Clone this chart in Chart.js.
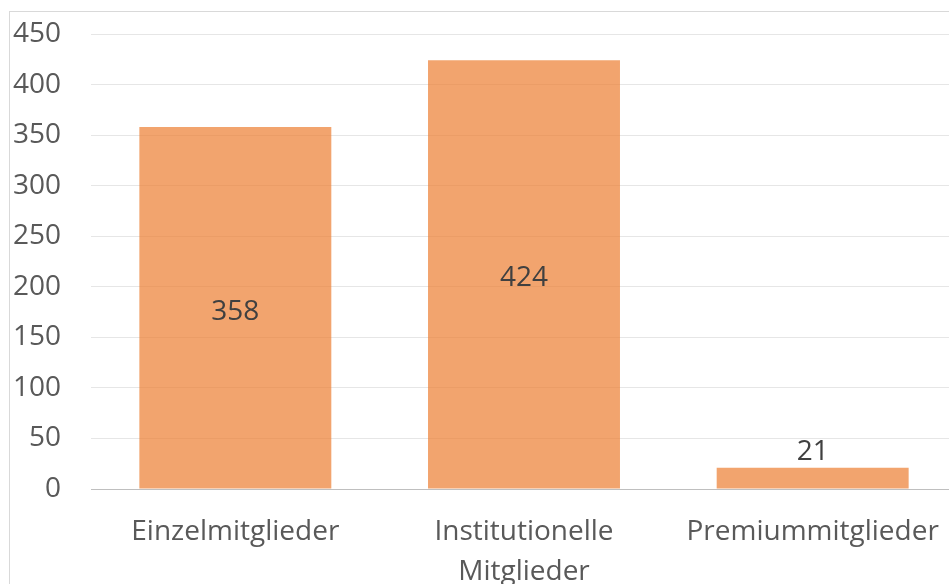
<!DOCTYPE html>
<html lang="de">
<head>
<meta charset="utf-8">
<title>Mitglieder</title>
<script src="https://cdn.jsdelivr.net/npm/chart.js@4"></script>
<style>
  html, body { margin: 0; padding: 0; background: #fff; overflow: hidden; }
  #wrap { position: absolute; left: 0; top: 0; width: 970px; height: 584px; }
</style>
</head>
<body>
<div id="wrap"><canvas id="grafico"></canvas></div>
<script>
// Daten
const kategorien = [['Einzelmitglieder'], ['Institutionelle', 'Mitglieder'], ['Premiummitglieder']];
const anzahl = [358, 424, 21];
const yTicks = [0, 50, 100, 150, 200, 250, 300, 350, 400, 450];

const schrift = '"Open Sans", "Noto Sans", sans-serif';

// Rahmen um das Diagramm (links und oben sichtbar)
const rahmen = {
    id: 'rahmen',
    beforeDraw(chart) {
        const c = chart.ctx;
        c.save();
        c.strokeStyle = '#d9d9d9';
        c.lineWidth = 1;
        c.strokeRect(9.5, 11.5, 1200, 1200);
        c.restore();
    }
};

// Werte in bzw. über den Balken
const werte = {
    id: 'werte',
    afterDatasetsDraw(chart) {
        const c = chart.ctx;
        const meta = chart.getDatasetMeta(0);
        c.save();
        c.font = '28px ' + schrift;
        c.fillStyle = '#404040';
        c.textAlign = 'center';
        c.textBaseline = 'middle';
        meta.data.forEach((bar, i) => {
            const v = anzahl[i];
            let y;
            if (bar.base - bar.y > 60) y = (bar.y + bar.base) / 2 + 4;
            else y = bar.y - 16;
            c.fillText(String(v), bar.x, y);
        });
        c.restore();
    }
};

new Chart(document.getElementById('grafico'), {
    type: 'bar',
    data: {
        labels: kategorien,
        datasets: [{
            data: anzahl,
            backgroundColor: 'rgba(237,125,49,0.7)',
            borderWidth: 0,
            categoryPercentage: 1,
            barPercentage: 0.665
        }]
    },
    options: {
        responsive: true,
        maintainAspectRatio: false,
        animation: false,
        layout: { padding: { top: 34, right: 13, left: 0, bottom: 0 } },
        plugins: {
            legend: { display: false },
            tooltip: { enabled: false }
        },
        scales: {
            x: {
                grid: { display: false, drawTicks: false },
                border: { display: false },
                ticks: {
                    color: '#595959',
                    font: { family: schrift, size: 28, lineHeight: '40px' },
                    padding: 23,
                    maxRotation: 0,
                    autoSkip: false
                },
                afterFit: s => { s.height = 95; s.paddingLeft = 0; s.paddingRight = 0; }
            },
            y: {
                min: 0,
                max: 450,
                afterBuildTicks: s => { s.ticks = yTicks.map(v => ({ value: v })); },
                grid: {
                    drawTicks: false,
                    color: ctx => ctx.tick && ctx.tick.value === 0 ? '#bfbfbf' : '#e6e6e6',
                    lineWidth: 1
                },
                border: { display: false },
                ticks: {
                    color: '#595959',
                    font: { family: schrift, size: 28 },
                    padding: 30
                },
                afterFit: s => { s.width = 91; s.paddingTop = 0; s.paddingBottom = 0; }
            }
        }
    },
    plugins: [rahmen, werte]
});
</script>
</body>
</html>
